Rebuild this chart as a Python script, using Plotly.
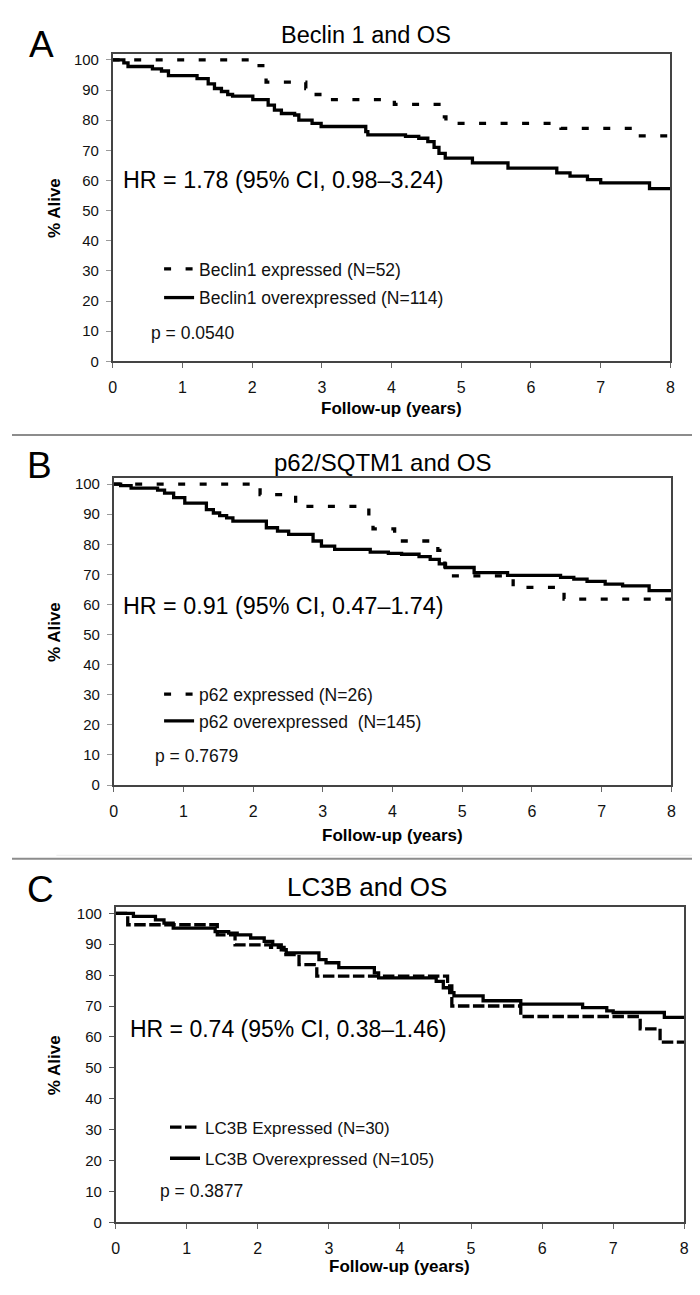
import plotly.graph_objects as go

W, H = 700, 1295

# ---------------- data ----------------
# Panel A: Beclin 1 and OS
a_exp_t = [0, 2.07, 2.20, 2.77, 2.88, 3.10, 4.04, 4.68, 4.78, 6.43, 7.48, 8.0]
a_exp_v = [100, 98.1, 92.6, 90.5, 88.5, 86.8, 85.2, 81.1, 78.9, 77.3, 74.8, 71.8]
a_ovr_t = [0, 0.16, 0.22, 0.57, 0.70, 0.80, 1.21, 1.37, 1.46, 1.56, 1.65, 1.72, 2.01,
           2.23, 2.32, 2.42, 2.61, 2.67, 2.86, 2.99, 3.63, 3.66, 4.20, 4.39, 4.52, 4.61,
           4.68, 4.77, 5.16, 5.67, 6.37, 6.56, 6.81, 7.00, 7.70, 8.0]
a_ovr_v = [100, 99, 97.8, 97, 96.3, 94.8, 93.8, 92, 90.5, 89.5, 88.5, 88, 86.8,
           85, 83.3, 82.2, 81.7, 80, 78.9, 77.9, 76.2, 75.1, 74.6, 74, 72.9, 71,
           69, 67.4, 65.8, 64.1, 62.5, 61.4, 60.3, 59.2, 57.3, 57.3]

# Panel B: p62/SQTM1 and OS
b_exp_t = [0, 2.10, 2.61, 3.66, 3.72, 4.03, 4.65, 4.75, 5.73, 6.46, 8.0]
b_exp_v = [100, 96.5, 92.6, 88.5, 85.1, 81.1, 78.0, 69.5, 65.7, 61.8, 57.0]
b_ovr_t = [0, 0.10, 0.25, 0.63, 0.73, 0.86, 1.02, 1.33, 1.43, 1.52, 1.62, 1.71, 2.19,
           2.35, 2.51, 2.86, 2.98, 3.17, 3.68, 3.94, 4.13, 4.38, 4.54, 4.67, 4.76, 5.17,
           5.65, 6.41, 6.60, 6.79, 7.05, 7.30, 7.68, 8.0]
b_ovr_v = [100, 99.5, 98.7, 98, 97, 95.5, 93.7, 91.5, 90.4, 89.5, 88.8, 87.7, 85.5,
           84.4, 83.3, 81.1, 79.4, 78.3, 77.4, 77, 76.7, 75.9, 75, 73.5, 72.3, 70.6,
           69.7, 69, 68.4, 67.7, 66.8, 66.2, 64.6, 64.6]

# Panel C: LC3B and OS
c_exp_t = [0, 0.17, 1.43, 1.68, 2.18, 2.37, 2.58, 2.83, 4.67, 4.73, 5.70, 7.38, 7.66, 8.0]
c_exp_v = [100, 96.3, 93, 89.8, 89, 86.6, 83.4, 79.7, 76.5, 70, 66.6, 62.6, 58.3, 58.3]
c_ovr_t = [0, 0.25, 0.56, 0.68, 0.81, 1.40, 1.59, 1.71, 1.90, 2.09, 2.21, 2.33, 2.40,
           2.86, 2.96, 3.14, 3.64, 3.70, 4.51, 4.61, 4.70, 4.76, 5.17, 5.70, 6.57, 6.91,
           7.00, 7.72, 8.0]
c_ovr_v = [100, 99, 97.9, 96.8, 95.2, 94.1, 93.6, 93, 92, 90.9, 89.8, 88.2, 87.2,
           85, 84, 82.4, 80.7, 79.1, 78, 75.9, 74.3, 73.3, 71.7, 70.6, 69.5, 68.4,
           67.9, 66.3, 66.3]

panel_letters = ["A", "B", "C"]
panel_titles = ["Beclin 1 and OS", "p62/SQTM1 and OS", "LC3B and OS"]
exp_names = ["Beclin1 expressed (N=52)", "p62 expressed (N=26)", "LC3B Expressed (N=30)"]
ovr_names = ["Beclin1 overexpressed (N=114)", "p62 overexpressed  (N=145)",
             "LC3B Overexpressed (N=105)"]
hr_texts = ["HR = 1.78 (95% CI, 0.98\u20133.24)", "HR = 0.91 (95% CI, 0.47\u20131.74)",
            "HR = 0.74 (95% CI, 0.38\u20131.46)"]
p_texts = ["p = 0.0540", "p = 0.7679", "p = 0.3877"]
x_ticks = [0, 1, 2, 3, 4, 5, 6, 7, 8]
y_ticks = [0, 10, 20, 30, 40, 50, 60, 70, 80, 90, 100]
x_title = "Follow-up (years)"
y_title = "% Alive"

FONT = "Liberation Sans, Arial, Helvetica, sans-serif"

# ---------------- layout geometry (pixels) ----------------
# plot boxes: x0px, x8px, ytop(px, value 102), y0px (value 0)
boxes = [(102, 667, 43.2, 353.3), (103, 668, 471.1, 780.7), (105, 681, 903.8, 1221.7)]
dash_styles = ["7px,14.5px", "7px,14.5px", "11.5px,3.5px"]
tick_cols = ["#9a9a9a", "#9a9a9a", "#555555"]

exp_data = [(a_exp_t, a_exp_v), (b_exp_t, b_exp_v), (c_exp_t, c_exp_v)]
ovr_data = [(a_ovr_t, a_ovr_v), (b_ovr_t, b_ovr_v), (c_ovr_t, c_ovr_v)]

def px(x):
    return x / W

def py(y):
    return 1 - y / H

fig = go.Figure()
layout = dict(width=W, height=H, margin=dict(l=0, r=0, t=0, b=0),
              paper_bgcolor="white", plot_bgcolor="white",
              font=dict(family=FONT, color="black"), showlegend=True)
annotations = []
shapes = []

letter_pos = [(30, 33.5), (27.5, 458.5), (29, 886)]
title_pos = [(359, 24), (375.6, 455), (360, 884)]
title_size = [23.5, 24, 26]
xtitle_y = [401, 831.7, 1266.7]
legend_pos = [(149, 242), (149, 671), (155, 1108)]
legend_gap = [3, 1, 6]
hr_pos = [(0.115, 60.3), (0.11, 59.5), (0.17, 62.6)]
hr_size = [23.3, 23.3, 23]
p_pos = [(0.514, 9.3), (0.56, 9.6), (0.60, 10.2)]

for i in range(3):
    x0, x8, ytop, ybot = boxes[i]
    sfx = "" if i == 0 else str(i + 1)
    xa, ya = "x" + sfx, "y" + sfx
    leg = "legend" + sfx
    et, ev = exp_data[i]
    ot, ov = ovr_data[i]
    fig.add_trace(go.Scatter(x=et, y=ev, mode="lines", line_shape="hv", name=exp_names[i],
                             line=dict(color="black", width=3.3, dash=dash_styles[i]),
                             xaxis=xa, yaxis=ya, legend=leg, legendgroup="e" + sfx))
    fig.add_trace(go.Scatter(x=ot, y=ov, mode="lines", line_shape="hv", name=ovr_names[i],
                             line=dict(color="black", width=3.3),
                             xaxis=xa, yaxis=ya, legend=leg, legendgroup="o" + sfx))
    layout["xaxis" + sfx] = dict(
        domain=[px(x0), px(x8)], range=[0, 8], anchor=ya, tickvals=x_ticks,
        showline=True, linecolor="#444", linewidth=1.5, mirror=True,
        ticks="outside", ticklen=5, tickcolor="#666", tickwidth=1,
        tickfont=dict(size=16, color="#111"), ticklabelstandoff=6,
        showgrid=False, zeroline=False, fixedrange=True)
    layout["yaxis" + sfx] = dict(
        domain=[py(ybot), py(ytop)], range=[0, 102], anchor=xa, tickvals=y_ticks,
        showline=True, linecolor="#444", linewidth=1.5, mirror=True,
        ticks="outside", ticklen=5, tickcolor=tick_cols[i], tickwidth=1,
        tickfont=dict(size=15, color="#111"), ticklabelstandoff=4,
        showgrid=False, zeroline=False, fixedrange=True)
    layout[leg] = dict(x=px(legend_pos[i][0]), y=py(legend_pos[i][1]),
                       xanchor="left", yanchor="top", bgcolor="rgba(0,0,0,0)",
                       borderwidth=0, tracegroupgap=legend_gap[i],
                       font=dict(size=17.5 if i < 2 else 17, family=FONT, color="#111"))
    # panel letter, title
    annotations.append(dict(text=panel_letters[i], x=px(letter_pos[i][0]), y=py(letter_pos[i][1]),
                            xref="paper", yref="paper", xanchor="center", yanchor="middle",
                            showarrow=False, font=dict(size=37, color="black")))
    annotations.append(dict(text=panel_titles[i], x=px(title_pos[i][0]), y=py(title_pos[i][1]),
                            xref="paper", yref="paper", xanchor="center", yanchor="middle",
                            showarrow=False, font=dict(size=title_size[i], color="black")))
    # axis titles
    annotations.append(dict(text="<b>" + x_title + "</b>", x=px((x0 + x8) / 2), y=py(xtitle_y[i]),
                            xref="paper", yref="paper", xanchor="center", yanchor="middle",
                            showarrow=False, font=dict(size=17, color="black")))
    annotations.append(dict(text="<b>" + y_title + "</b>", x=px(43), y=py((ytop + ybot) / 2),
                            xref="paper", yref="paper", xanchor="center", yanchor="middle",
                            textangle=-90, showarrow=False, font=dict(size=17, color="black")))
    # HR and p-value
    annotations.append(dict(text=hr_texts[i], x=hr_pos[i][0], y=hr_pos[i][1], xref=xa, yref=ya,
                            xanchor="left", yanchor="middle", showarrow=False,
                            font=dict(size=hr_size[i], color="black")))
    annotations.append(dict(text=p_texts[i], x=p_pos[i][0], y=p_pos[i][1], xref=xa, yref=ya,
                            xanchor="left", yanchor="middle", showarrow=False,
                            font=dict(size=17.5, color="#111")))

# separators between panels
for ysep in (427.7, 855):
    shapes.append(dict(type="line", xref="paper", yref="paper", x0=0, x1=1,
                       y0=py(ysep), y1=py(ysep), line=dict(color="#8c8c8c", width=2)))
shapes.append(dict(type="line", xref="paper", yref="paper", x0=px(45), x1=1,
                   y0=py(851.5), y1=py(851.5), line=dict(color="#ececec", width=1)))

layout["annotations"] = annotations
layout["shapes"] = shapes
fig.update_layout(**layout)
fig.write_html("out.html")
